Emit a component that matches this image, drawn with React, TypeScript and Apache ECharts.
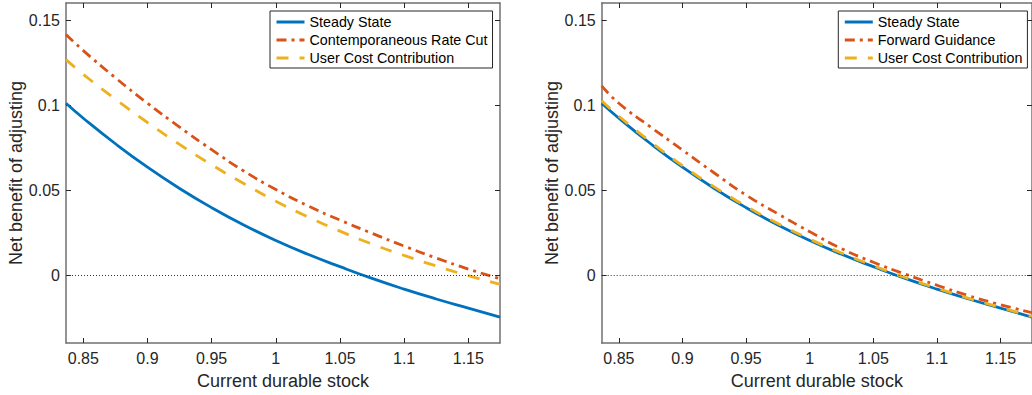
import React, { useEffect, useRef } from "react";
import * as echarts from "echarts";

// Current durable stock (x grid)
const stockX = [0.8365, 0.85, 0.875, 0.9, 0.925, 0.95, 0.975, 1.0, 1.025, 1.05, 1.075, 1.1, 1.125, 1.15, 1.1747];

// Left panel
const steadyState = [0.101, 0.0922, 0.0772, 0.0634, 0.0509, 0.0396, 0.0294, 0.0203, 0.0122, 0.0049, -0.002, -0.0083, -0.0141, -0.0195, -0.0248];
const rateCut = [0.1415, 0.132, 0.116, 0.101, 0.087, 0.0737, 0.0612, 0.0503, 0.0407, 0.0323, 0.0245, 0.017, 0.010, 0.0035, -0.0022];
const userCostLeft = [0.1267, 0.118, 0.1035, 0.0897, 0.0768, 0.0648, 0.0538, 0.0434, 0.0342, 0.0258, 0.0182, 0.0115, 0.0053, -0.0004, -0.0055];

// Right panel
const forwardGuidance = [0.1112, 0.101, 0.087, 0.0735, 0.060, 0.047, 0.036, 0.0255, 0.0155, 0.0075, 0.0005, -0.006, -0.0122, -0.0175, -0.0222];
const userCostRight = [0.1025, 0.0934, 0.0783, 0.0644, 0.0518, 0.0405, 0.0303, 0.0211, 0.0129, 0.0055, -0.0015, -0.0078, -0.0137, -0.0191, -0.0244];

const xTicks = [0.85, 0.9, 0.95, 1, 1.05, 1.1, 1.15];
const yTicks = [0, 0.05, 0.1, 0.15];

const xName = "Current durable stock";
const yName = "Net benefit of adjusting";
const legendLeft = ["Steady State", "Contemporaneous Rate Cut", "User Cost Contribution"];
const legendRight = ["Steady State", "Forward Guidance", "User Cost Contribution"];

const BLUE = "#0072BD";
const ORANGE = "#D95319";
const YELLOW = "#EDB120";
const TEXT = "#262626";
const FRAME = "#707070";
const FONT = "'Liberation Sans', Arial, Helvetica, sans-serif";

const pairs = (ys: number[]) => stockX.map((x, i) => [x, ys[i]]);

export default function App() {
  const ref = useRef<HTMLDivElement>(null);

  useEffect(() => {
    if (!ref.current) return;
    const chart = echarts.init(ref.current, undefined, { renderer: "svg" });

    const grids = [
      { left: 66, top: 3, width: 434, height: 341 },
      { left: 601.7, top: 3, width: 434, height: 341 },
    ];

    const tick = { show: true, inside: true, length: 5, lineStyle: { color: TEXT, width: 1 } };
    const line = { show: true, onZero: false, lineStyle: { color: FRAME, width: 1.5 } };

    const xAxes: any[] = [];
    const yAxes: any[] = [];
    grids.forEach((_, g) => {
      xAxes.push({
        type: "value",
        gridIndex: g,
        position: "bottom",
        min: 0.8365,
        max: 1.1747,
        axisLine: line,
        axisTick: { ...tick, customValues: xTicks },
        splitLine: { show: false },
        axisLabel: {
          customValues: xTicks,
          formatter: (v: number) => String(v),
          color: TEXT,
          fontSize: 16,
          fontFamily: FONT,
          margin: 7,
        },
        name: xName,
        nameLocation: "middle",
        nameGap: 29,
        nameTextStyle: { color: TEXT, fontSize: 18, fontFamily: FONT },
      });
      xAxes.push({
        type: "value",
        gridIndex: g,
        position: "top",
        min: 0.8365,
        max: 1.1747,
        axisLine: line,
        axisTick: { ...tick, customValues: xTicks },
        splitLine: { show: false },
        axisLabel: { show: false },
      });
      yAxes.push({
        type: "value",
        gridIndex: g,
        position: "left",
        min: -0.04,
        max: 0.16,
        axisLine: line,
        axisTick: { ...tick, customValues: yTicks },
        splitLine: { show: false },
        axisLabel: {
          customValues: yTicks,
          formatter: (v: number) => String(v),
          color: TEXT,
          fontSize: 16,
          fontFamily: FONT,
          margin: 6,
        },
        name: yName,
        nameLocation: "middle",
        nameGap: 40,
        nameTextStyle: { color: TEXT, fontSize: 18, fontFamily: FONT },
      });
      yAxes.push({
        type: "value",
        gridIndex: g,
        position: "right",
        min: -0.04,
        max: 0.16,
        axisLine: line,
        axisTick: { ...tick, customValues: yTicks },
        splitLine: { show: false },
        axisLabel: { show: false },
      });
    });

    const zeroLine = {
      silent: true,
      symbol: ["none", "none"],
      label: { show: false },
      lineStyle: { type: [1, 2], color: "#333", width: 1 },
      data: [{ yAxis: 0 }],
    };

    const mk = (name: string, ys: number[], g: number, color: string, type: any, withZero = false) => ({
      type: "line",
      name,
      data: pairs(ys),
      xAxisIndex: g * 2,
      yAxisIndex: g * 2,
      showSymbol: false,
      symbol: "none",
      smooth: true,
      lineStyle: { color, width: 2.8, type },
      itemStyle: { color },
      ...(withZero ? { markLine: zeroLine } : {}),
    });

    const legendCommon = {
      orient: "vertical",
      top: 11,
      backgroundColor: "#fff",
      borderColor: TEXT,
      borderWidth: 1,
      borderRadius: 0,
      padding: [4, 5, 3, 5],
      itemWidth: 28,
      itemHeight: 14,
      itemGap: 4,
      itemStyle: { opacity: 0 },
      lineStyle: { width: 3 },
      textStyle: { color: "#000", fontSize: 14.3, fontFamily: FONT },
      selectedMode: false,
    };

    chart.setOption({
      animation: false,
      backgroundColor: "#fff",
      grid: grids,
      xAxis: xAxes,
      yAxis: yAxes,
      legend: [
        { ...legendCommon, left: 270, data: legendLeft },
        { ...legendCommon, left: 838.3, data: legendRight },
      ],
      series: [
        mk("Steady State", steadyState, 0, BLUE, "solid", true),
        mk("Contemporaneous Rate Cut", rateCut, 0, ORANGE, [10, 5, 3, 5]),
        mk("User Cost Contribution", userCostLeft, 0, YELLOW, [12, 11]),
        mk("Steady State", steadyState, 1, BLUE, "solid", true),
        mk("Forward Guidance", forwardGuidance, 1, ORANGE, [10, 5, 3, 5]),
        mk("User Cost Contribution", userCostRight, 1, YELLOW, [12, 11]),
      ],
    });

    return () => chart.dispose();
  }, []);

  return (
    <div
      ref={ref}
      style={{ position: "fixed", left: 0, top: 0, width: 1032, height: 395, background: "#fff" }}
    />
  );
}
